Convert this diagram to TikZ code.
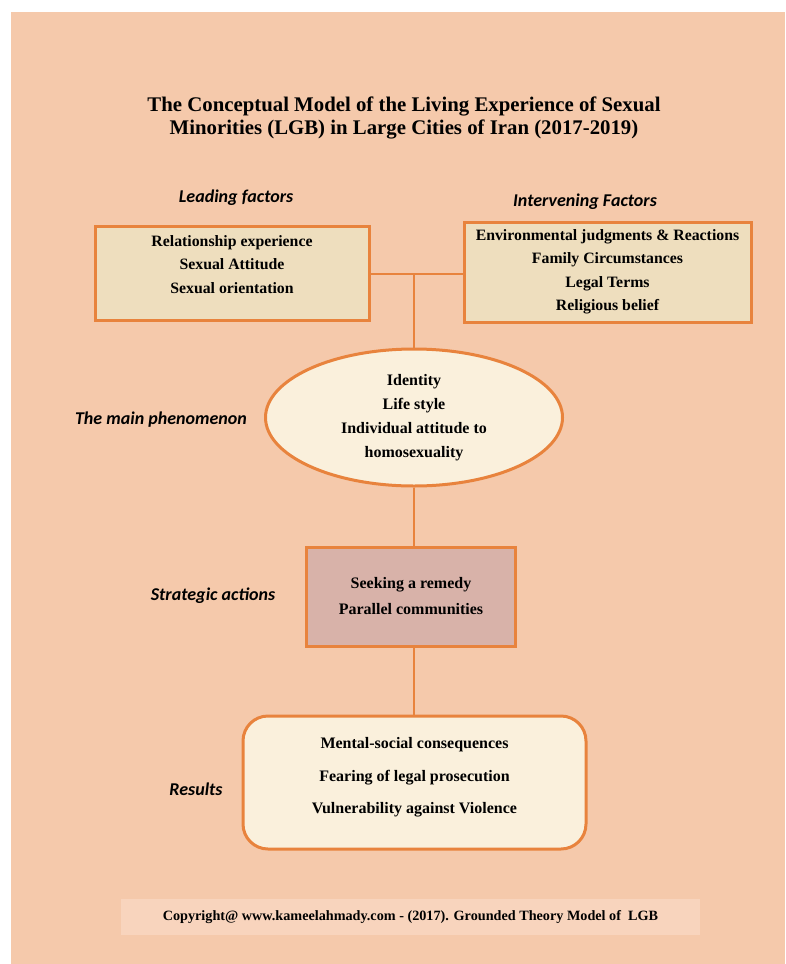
\documentclass[tikz,border=0pt]{standalone}
\usepackage{fontspec}
\setmainfont{Liberation Serif}
\newfontfamily\labelfont{Carlito}
\usetikzlibrary{shapes.geometric}
\definecolor{peach}{HTML}{F5C9AB}
\definecolor{frame}{HTML}{E8833D}
\definecolor{parch}{HTML}{EEDEBE}
\definecolor{rose}{HTML}{D8B2A9}
\definecolor{cream}{HTML}{FAF0DC}
\definecolor{band}{HTML}{F8D4BD}
\tikzstyle{link} = [draw=frame, line width=2pt]
\tikzstyle{factor} = [rectangle, draw=frame, line width=3pt, fill=parch, align=center, inner sep=0pt, font=\bfseries\fontsize{15.8}{23.5}\selectfont]
\tikzstyle{phenom} = [ellipse, draw=frame, line width=3pt, fill=cream, align=center, inner sep=0pt, minimum width=297pt, minimum height=137pt, font=\bfseries\fontsize{16}{24}\selectfont]
\tikzstyle{action} = [rectangle, draw=frame, line width=3pt, fill=rose, align=center, inner sep=0pt, minimum width=209pt, minimum height=99pt, font=\bfseries\fontsize{16}{26}\selectfont]
\tikzstyle{result} = [rectangle, rounded corners=25pt, draw=frame, line width=3pt, fill=cream, align=center, inner sep=0pt, minimum width=343pt, minimum height=133pt, font=\bfseries\fontsize{16}{32.5}\selectfont]
\tikzstyle{tag} = [font=\labelfont\bfseries\itshape\fontsize{18}{21}\selectfont]

\begin{document}
\begin{tikzpicture}[x=1pt, y=-1pt]

\useasboundingbox (0,0) rectangle (785,964);
\fill[white] (0,0) rectangle (785,964);
\fill[peach] (11,12) rectangle (785,964);

\node (title) [align=center, font=\bfseries\fontsize{20.8}{23}\selectfont] at (404,118) {The Conceptual Model of the Living Experience of Sexual\\Minorities (LGB) in Large Cities of Iran (2017-2019)};

\node (t_lead) [tag] at (236,197.5) {Leading factors};
\node (t_int) [tag] at (585,201.5) {Intervening Factors};
\node (t_phen) [tag] at (161,420) {The main phenomenon};
\node (t_act) [tag] at (213,596) {Strategic actions};
\node (t_res) [tag] at (196,789) {Results};

\node (lead) [factor, minimum width=274pt, minimum height=94pt] at (232,273) {Relationship experience\\Sexual Attitude\\Sexual orientation\\[-6pt]};
\node (interv) [factor, minimum width=287pt, minimum height=100pt] at (607.5,272) {Environmental judgments \& Reactions\\Family Circumstances\\Legal Terms\\Religious belief};
\node (phen) [phenom] at (414,417.5) {Identity\\Life style\\Individual attitude to\\homosexuality};
\node (act) [action] at (411,596.5) {Seeking a remedy\\Parallel communities};
\node (res) [result] at (414.5,782.5) {Mental-social consequences\\Fearing of legal prosecution\\Vulnerability against Violence\\[-19pt]};

\node[coordinate] (junc) at (414,274) {};

\draw [link] (lead.east |- junc) -- (junc) -- (junc -| interv.west);
\draw [link] (junc) -- (phen.north);
\draw [link] (phen.south) -- (phen.south |- act.north);
\draw [link] (act.south -| phen.south) -- (phen.south |- res.north);

\node (copy) [fill=band, minimum width=579pt, minimum height=36pt, font=\bfseries\fontsize{14.2}{16}\selectfont] at (410.5,917) {Copyright@ www.kameelahmady.com - (2017). Grounded Theory Model of\ \ LGB};

\end{tikzpicture}
\end{document}
